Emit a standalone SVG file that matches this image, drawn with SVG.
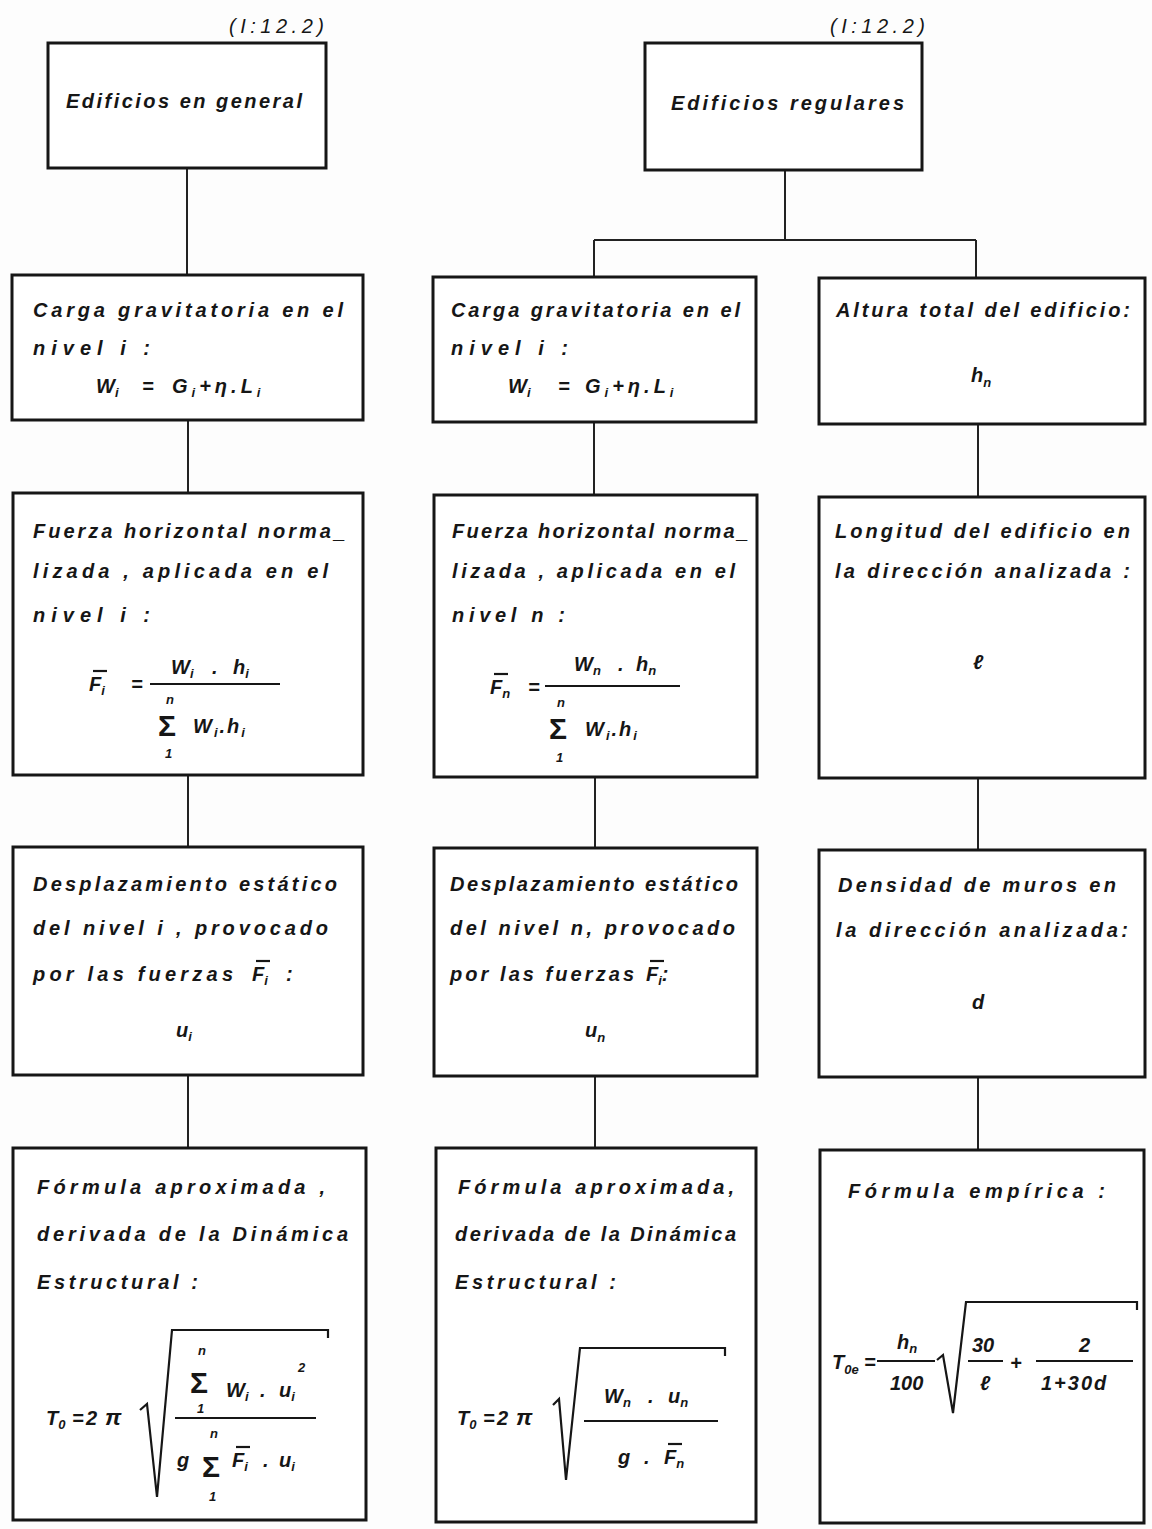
<svg xmlns="http://www.w3.org/2000/svg" width="1152" height="1529" viewBox="0 0 1152 1529">
<style>
.b{fill:#fff;stroke:#161616;stroke-width:3}
.c{fill:none;stroke:#222;stroke-width:2}
.f{fill:none;stroke:#161616;stroke-width:2.2}
text{font-family:"Liberation Sans",Arial,sans-serif;font-weight:bold;font-style:italic;font-size:20px;fill:#161616}
.s{font-size:13px}
.r{font-weight:normal;font-size:20px}
.g{font-size:30px;font-style:normal}
.sm{font-size:13px}
.pi{font-size:23px}
</style>
<rect width="1152" height="1529" fill="#fdfdfd"/>
<g id="connectors">
<path class="c" d="M187,168 V275"/>
<path class="c" d="M785,170 V240 M594,240 H976 M594,240 V277 M976,240 V278"/>
<path class="c" d="M188,420 V493 M594,422 V495 M978,424 V497"/>
<path class="c" d="M188,775 V847 M595,777 V848 M978,778 V850"/>
<path class="c" d="M188,1075 V1148 M595,1076 V1148 M978,1077 V1150"/>
</g>
<g id="n_general">
<rect class="b" x="48" y="43" width="278" height="125"/>
<text class="r" x="229" y="33" textLength="95" lengthAdjust="spacing">(I:12.2)</text>
<text x="66" y="108" textLength="236" lengthAdjust="spacing">Edificios en general</text>
</g>
<g id="n_regulares">
<rect class="b" x="645" y="43" width="277" height="127"/>
<text class="r" x="830" y="33" textLength="95" lengthAdjust="spacing">(I:12.2)</text>
<text x="671" y="110" textLength="233" lengthAdjust="spacing">Edificios regulares</text>
</g>
<g id="n_carga1">
<rect class="b" x="12" y="275" width="351" height="145"/>
<text x="33" y="317" textLength="310" lengthAdjust="spacing">Carga gravitatoria en el</text>
<text x="33" y="355" textLength="117" lengthAdjust="spacing">nivel i :</text>
<text x="96" y="393">W<tspan class="s" dy="4">i</tspan></text>
<text x="142" y="393">=</text>
<text x="172" y="393" letter-spacing="4">G<tspan class="s" dy="4">i</tspan><tspan dy="-4">+η.L</tspan><tspan class="s" dy="4">i</tspan></text>
</g>
<g id="n_carga2">
<rect class="b" x="433" y="277" width="323" height="145"/>
<text x="451" y="317" textLength="289" lengthAdjust="spacing">Carga gravitatoria en el</text>
<text x="451" y="355" textLength="117" lengthAdjust="spacing">nivel i :</text>
<text x="508" y="393">W<tspan class="s" dy="4">i</tspan></text>
<text x="558" y="393">=</text>
<text x="585" y="393" letter-spacing="4">G<tspan class="s" dy="4">i</tspan><tspan dy="-4">+η.L</tspan><tspan class="s" dy="4">i</tspan></text>
</g>
<g id="n_altura">
<rect class="b" x="819" y="278" width="326" height="146"/>
<text x="836" y="317" textLength="294" lengthAdjust="spacing">Altura total del edificio:</text>
<text x="971" y="382">h<tspan class="s" dy="5">n</tspan></text>
</g>
<g id="n_fuerza1">
<rect class="b" x="13" y="493" width="350" height="282"/>
<text x="33" y="538" textLength="312" lengthAdjust="spacing">Fuerza horizontal norma_</text>
<text x="33" y="578" textLength="295" lengthAdjust="spacing">lizada , aplicada en el</text>
<text x="33" y="622" textLength="117" lengthAdjust="spacing">nivel i :</text>
<text x="89" y="691">F<tspan class="s" dy="4">i</tspan></text>
<path class="f" d="M93,671 H107"/>
<text x="131" y="691">=</text>
<path class="f" d="M150,684 H280"/>
<text x="171" y="674">W<tspan class="s" dy="4">i</tspan></text>
<text x="212" y="674">.</text>
<text x="233" y="674">h<tspan class="s" dy="4">i</tspan></text>
<text class="sm" x="166" y="704">n</text>
<text class="g" x="158" y="736">Σ</text>
<text class="sm" x="165" y="758">1</text>
<text x="193" y="733" letter-spacing="2">W<tspan class="s" dy="4">i</tspan><tspan dy="-4">.h</tspan><tspan class="s" dy="4">i</tspan></text>
</g>
<g id="n_fuerza2">
<rect class="b" x="434" y="495" width="323" height="282"/>
<text x="452" y="538" textLength="296" lengthAdjust="spacing">Fuerza horizontal norma_</text>
<text x="452" y="578" textLength="283" lengthAdjust="spacing">lizada , aplicada en el</text>
<text x="452" y="622" textLength="113" lengthAdjust="spacing">nivel n :</text>
<text x="490" y="694">F<tspan class="s" dy="4">n</tspan></text>
<path class="f" d="M494,674 H508"/>
<text x="528" y="694">=</text>
<path class="f" d="M545,686 H680"/>
<text x="574" y="671">W<tspan class="s" dy="4">n</tspan></text>
<text x="618" y="671">.</text>
<text x="636" y="671">h<tspan class="s" dy="4">n</tspan></text>
<text class="sm" x="557" y="707">n</text>
<text class="g" x="549" y="739">Σ</text>
<text class="sm" x="556" y="762">1</text>
<text x="585" y="736" letter-spacing="2">W<tspan class="s" dy="4">i</tspan><tspan dy="-4">.h</tspan><tspan class="s" dy="4">i</tspan></text>
</g>
<g id="n_longitud">
<rect class="b" x="819" y="497" width="326" height="281"/>
<text x="835" y="538" textLength="295" lengthAdjust="spacing">Longitud del edificio en</text>
<text x="835" y="578" textLength="295" lengthAdjust="spacing">la dirección analizada :</text>
<text x="973" y="669">ℓ</text>
</g>
<g id="n_despl1">
<rect class="b" x="13" y="847" width="350" height="228"/>
<text x="33" y="891" textLength="304" lengthAdjust="spacing">Desplazamiento estático</text>
<text x="33" y="935" textLength="295" lengthAdjust="spacing">del nivel i , provocado</text>
<text x="33" y="981" textLength="200" lengthAdjust="spacing">por las fuerzas</text>
<text x="252" y="981">F<tspan class="s" dy="4">i</tspan></text>
<path class="f" d="M256,961 H270"/>
<text x="286" y="981">:</text>
<text x="176" y="1037">u<tspan class="s" dy="4">i</tspan></text>
</g>
<g id="n_despl2">
<rect class="b" x="434" y="848" width="323" height="228"/>
<text x="450" y="891" textLength="288" lengthAdjust="spacing">Desplazamiento estático</text>
<text x="450" y="935" textLength="285" lengthAdjust="spacing">del nivel n, provocado</text>
<text x="450" y="981" textLength="184" lengthAdjust="spacing">por las fuerzas</text>
<text x="646" y="981">F<tspan class="s" dy="4">i</tspan><tspan dy="-4">:</tspan></text>
<path class="f" d="M650,961 H664"/>
<text x="585" y="1037">u<tspan class="s" dy="5">n</tspan></text>
</g>
<g id="n_densidad">
<rect class="b" x="819" y="850" width="326" height="227"/>
<text x="838" y="892" textLength="278" lengthAdjust="spacing">Densidad de muros en</text>
<text x="836" y="937" textLength="292" lengthAdjust="spacing">la dirección analizada:</text>
<text x="972" y="1009">d</text>
</g>
<g id="n_formula1">
<rect class="b" x="13" y="1148" width="353" height="372"/>
<text x="37" y="1194" textLength="288" lengthAdjust="spacing">Fórmula aproximada ,</text>
<text x="37" y="1241" textLength="311" lengthAdjust="spacing">derivada de la Dinámica</text>
<text x="37" y="1289" textLength="161" lengthAdjust="spacing">Estructural :</text>
<text x="46" y="1425">T<tspan class="s" dy="4">0</tspan></text>
<text x="72" y="1425">=</text>
<text x="86" y="1425">2</text>
<text class="pi" x="105" y="1425">π</text>
<path class="f" d="M140,1410 L147,1404 L157,1497 L172,1330 H328 V1338"/>
<text class="sm" x="198" y="1355">n</text>
<text class="g" x="190" y="1393">Σ</text>
<text class="sm" x="197" y="1413">1</text>
<text x="226" y="1397">W<tspan class="s" dy="4">i</tspan></text>
<text x="260" y="1397">.</text>
<text x="279" y="1397">u<tspan class="s" dy="4">i</tspan></text>
<text class="sm" x="298" y="1372">2</text>
<path class="f" d="M175,1418 H316"/>
<text x="177" y="1467">g</text>
<text class="sm" x="210" y="1438">n</text>
<text class="g" x="202" y="1477">Σ</text>
<text class="sm" x="209" y="1501">1</text>
<text x="232" y="1467">F<tspan class="s" dy="4">i</tspan></text>
<path class="f" d="M236,1447 H250"/>
<text x="263" y="1467">.</text>
<text x="279" y="1467">u<tspan class="s" dy="4">i</tspan></text>
</g>
<g id="n_formula2">
<rect class="b" x="436" y="1148" width="320" height="374"/>
<text x="458" y="1194" textLength="276" lengthAdjust="spacing">Fórmula aproximada,</text>
<text x="455" y="1241" textLength="281" lengthAdjust="spacing">derivada de la Dinámica</text>
<text x="455" y="1289" textLength="161" lengthAdjust="spacing">Estructural :</text>
<text x="457" y="1425">T<tspan class="s" dy="4">0</tspan></text>
<text x="483" y="1425">=</text>
<text x="497" y="1425">2</text>
<text class="pi" x="516" y="1425">π</text>
<path class="f" d="M553,1405 L559,1399 L566,1480 L580,1348 H725 V1356"/>
<text x="604" y="1403">W<tspan class="s" dy="4">n</tspan></text>
<text x="648" y="1403">.</text>
<text x="668" y="1403">u<tspan class="s" dy="4">n</tspan></text>
<path class="f" d="M584,1421 H718"/>
<text x="618" y="1464">g</text>
<text x="644" y="1464">.</text>
<text x="664" y="1464">F<tspan class="s" dy="4">n</tspan></text>
<path class="f" d="M668,1444 H682"/>
</g>
<g id="n_formula3">
<rect class="b" x="820" y="1150" width="324" height="373"/>
<text x="848" y="1198" textLength="257" lengthAdjust="spacing">Fórmula empírica :</text>
<text x="832" y="1369">T<tspan class="s" dy="5">0e</tspan></text>
<text x="864" y="1369">=</text>
<text x="897" y="1349">h<tspan class="s" dy="4">n</tspan></text>
<path class="f" d="M877,1361 H935"/>
<text x="890" y="1390">100</text>
<path class="f" d="M937,1360 L943,1355 L953,1413 L966,1302 H1137 V1310"/>
<text x="972" y="1352">30</text>
<path class="f" d="M968,1361 H1003"/>
<text x="980" y="1390">ℓ</text>
<text x="1010" y="1370">+</text>
<text x="1079" y="1352">2</text>
<path class="f" d="M1036,1361 H1133"/>
<text x="1041" y="1390" letter-spacing="2">1+30d</text>
</g>
</svg>
